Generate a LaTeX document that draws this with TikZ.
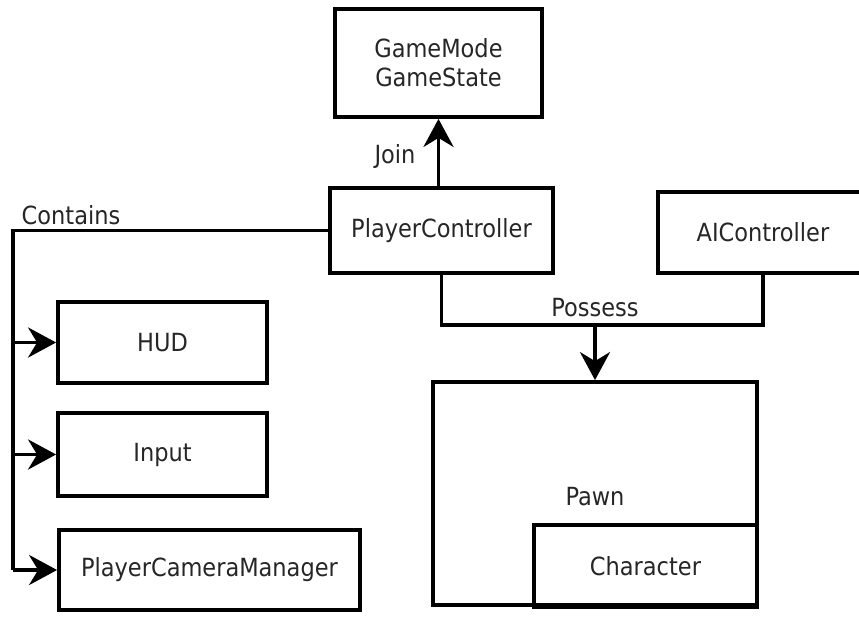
\documentclass[tikz,border=0pt]{standalone}
\usepackage{fontspec}
\setmainfont{DejaVu Sans Condensed}
\usetikzlibrary{arrows.meta}
\begin{document}
\begin{tikzpicture}[x=1pt,y=-1pt,
  box/.style={draw=black,line width=3.8pt,rectangle,inner sep=0pt,align=center,text=black!85,font=\fontsize{25}{29}\selectfont},
  lbl/.style={inner sep=0pt,text=black!85,font=\fontsize{25}{29}\selectfont},
  conn/.style={line width=3.8pt},
  arr/.style={line width=3.8pt,-{Stealth[length=28pt,width=30pt,inset=9pt]}}]
\useasboundingbox (0,0) rectangle (859,616);
\node[box,minimum width=207pt,minimum height=108pt] (gm) at (438.5,63) {GameMode\\GameState};
\node[box,minimum width=223pt,minimum height=85pt] (pc) at (441.5,230.5) {PlayerController};
\node[box,minimum width=210pt,minimum height=81pt] (ai) at (763,232.5) {AIController};
\node[box,minimum width=209pt,minimum height=81pt] (hud) at (162.5,342.5) {HUD};
\node[box,minimum width=209pt,minimum height=83pt] (inp) at (162.5,454.5) {Input};
\node[box,minimum width=301pt,minimum height=80pt] (pcm) at (209.5,570) {PlayerCameraManager};
\node[box,minimum width=324pt,minimum height=223pt] (pawn) at (595,493.5) {};
\node[lbl] (pawnl) at (595,497) {Pawn};
\node[box,minimum width=223pt,minimum height=82pt] (chr) at (645.5,566) {Character};
\node[lbl] (join) at (395,157) {Join};
\node[lbl] (poss) at (595,308) {Possess};
\node[lbl] (cont) at (71,215) {Contains};
\coordinate (ct) at (13,230.5);
\coordinate (pj) at (595,325);
\draw[arr] (gm.south |- pc.north) -- (gm.south);
\draw[conn] (pc.west) -- (ct) -- (ct |- pcm.west);
\draw[arr] (ct |- hud.west) -- (hud.west);
\draw[arr] (ct |- inp.west) -- (inp.west);
\draw[arr] (ct |- pcm.west) -- (pcm.west);
\draw[conn] (pc.south) |- (pj) -| (ai.south);
\draw[arr] (pj) -- (pawn.north);
\end{tikzpicture}
\end{document}
